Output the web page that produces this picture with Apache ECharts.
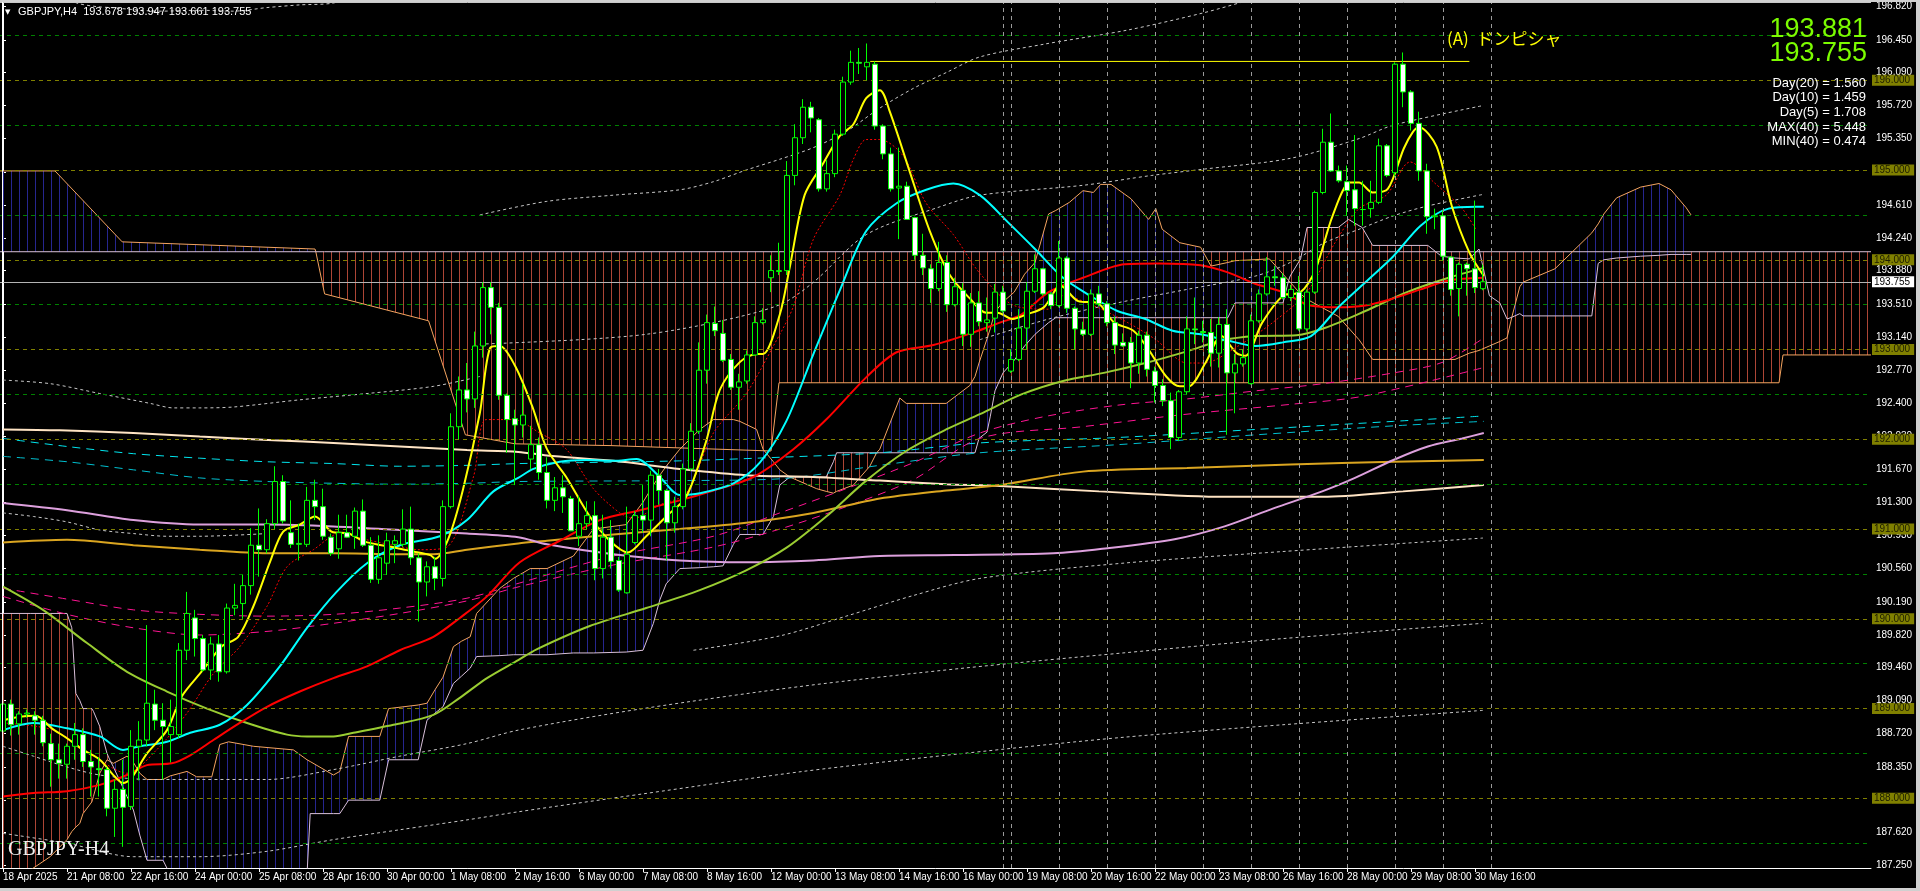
<!DOCTYPE html>
<html><head><meta charset="utf-8">
<script src="https://cdn.jsdelivr.net/npm/echarts@6/dist/echarts.min.js"></script>
<style>html,body{margin:0;padding:0;background:#000;overflow:hidden}#c{width:1920px;height:891px}</style>
</head><body><div id="c"></div>
<script>
// ---------- DATA ----------
const tickIdx = [0,8,16,24,32,40,48,56,64,72,80,88,96,104,112,120,128,136,144,152,160,168,176,184];
const timeLabels = ["18 Apr 2025","21 Apr 08:00","22 Apr 16:00","24 Apr 00:00","25 Apr 08:00","28 Apr 16:00","30 Apr 00:00","1 May 08:00","2 May 16:00","6 May 00:00","7 May 08:00","8 May 16:00","12 May 00:00","13 May 08:00","14 May 16:00","16 May 00:00","19 May 08:00","20 May 16:00","22 May 00:00","23 May 08:00","26 May 16:00","28 May 00:00","29 May 08:00","30 May 16:00"];
const yTicks = [196.82,196.45,196.09,195.72,195.35,194.98,194.61,194.24,193.88,193.51,193.14,192.77,192.40,192.03,191.67,191.30,190.93,190.56,190.19,189.82,189.46,189.09,188.72,188.35,187.98,187.62,187.25];
const intLevels = [188,189,190,191,192,193,194,195,196];
const halfLevels = [187.5,188.5,189.5,190.5,191.5,192.5,193.5,194.5,195.5,196.5];
const lastPrice = 193.755;
const daySeparators = [125,126,132,138,144,150,156,162,168,174,180,186];
const lineA = [[108.4,196.21],[183.3,196.21]];

const opens = [188.75,189.05,188.83,188.94,188.92,188.87,188.61,188.43,188.38,188.58,
188.71,188.41,188.33,188.32,187.89,188.10,187.91,188.58,188.65,189.05,
188.87,188.71,188.71,189.65,190.01,189.78,189.43,189.72,189.41,190.12,
190.17,190.37,190.82,190.77,191.06,191.53,190.96,190.83,190.83,191.32,
191.25,190.91,190.78,190.96,190.92,191.20,190.82,190.44,190.62,190.83,
190.83,191.00,190.68,190.41,190.58,190.45,191.25,192.14,192.55,192.45,
193.04,193.69,193.47,192.49,192.23,192.16,191.78,191.94,191.63,191.32,
191.46,191.34,190.92,191.06,191.15,190.56,190.91,190.65,190.29,190.85,
191.15,191.10,191.60,191.43,191.07,191.25,191.67,192.09,192.77,193.29,
193.18,192.89,192.58,192.65,192.94,193.30,193.80,193.87,193.88,194.94,
195.36,195.70,195.56,194.79,194.96,195.40,195.98,196.20,196.15,196.18,
195.49,195.18,194.80,194.82,194.47,194.05,193.90,193.68,193.97,193.50,
193.66,193.17,193.52,193.30,193.35,193.64,192.76,192.89,193.24,193.65,
193.90,193.62,193.49,194.02,193.46,193.22,193.17,193.62,193.51,193.30,
193.08,193.08,192.85,193.16,192.76,192.60,192.43,192.02,192.53,193.23,
193.20,193.19,192.96,193.28,192.74,192.84,192.62,193.32,193.62,193.81,
193.80,193.58,193.64,193.23,193.64,194.75,195.31,194.99,194.87,194.78,
194.56,194.57,194.64,195.27,194.97,196.18,195.87,195.52,194.99,194.48,
194.49,194.03,193.68,193.95,193.90,193.678];
const highs = [189.10,189.10,188.97,188.99,188.97,188.92,188.72,188.61,188.61,188.84,
188.78,188.54,188.46,188.35,188.21,188.43,188.76,188.86,189.93,189.21,
189.06,189.10,189.73,190.30,190.10,189.82,189.80,189.82,190.17,190.39,
190.49,191.01,191.23,191.11,191.70,191.60,191.32,191.06,191.47,191.55,
191.45,190.95,191.16,191.16,191.24,191.33,190.91,190.93,190.96,190.93,
191.22,191.25,190.73,190.64,190.69,191.32,192.29,192.70,192.85,193.20,
193.75,193.75,193.52,192.51,192.33,192.62,192.15,192.02,191.80,191.58,
191.60,191.37,191.37,191.31,191.31,191.16,191.10,190.69,191.25,191.20,
191.49,191.65,191.67,191.45,191.36,191.73,192.18,193.08,193.39,193.48,
193.33,192.95,192.73,192.99,193.37,193.46,194.05,194.19,195.10,195.51,
195.79,195.76,195.58,195.11,195.45,196.04,196.33,196.36,196.41,196.21,
195.51,195.25,195.25,194.87,194.48,194.29,193.95,194.20,194.05,193.80,
193.74,193.63,193.65,193.58,193.73,193.71,193.00,193.45,193.75,194.06,
193.91,193.64,194.21,194.04,193.48,193.31,193.67,193.71,193.54,193.37,
193.18,193.14,193.21,193.20,192.81,192.67,192.52,192.55,193.37,193.58,
193.32,193.34,193.36,193.45,192.95,193.00,193.39,193.67,194.03,193.93,
193.85,193.72,193.82,193.67,194.77,195.46,195.63,195.05,195.05,195.39,
194.88,194.88,195.35,195.29,196.20,196.31,195.89,195.65,195.07,194.57,
194.55,194.04,193.97,193.97,194.66,193.947];
const lows = [188.65,188.70,188.71,188.90,188.71,188.58,188.13,188.22,188.22,188.43,
188.35,188.02,188.02,187.80,187.57,187.46,187.87,188.20,188.58,188.76,
188.21,188.40,188.67,189.54,189.58,189.41,189.32,189.30,189.39,190.04,
190.00,190.27,190.47,190.73,191.00,191.06,190.79,190.65,190.80,191.10,
190.88,190.70,190.67,190.90,190.78,190.80,190.40,190.39,190.49,190.62,
190.80,190.60,189.97,190.25,190.32,190.36,191.23,192.00,192.30,192.35,
192.91,193.17,192.44,191.85,191.49,192.02,191.67,191.55,191.23,191.20,
191.18,190.98,190.81,191.00,190.43,190.45,190.56,190.30,190.28,190.83,
190.96,190.92,191.27,190.65,190.96,191.22,191.65,192.06,192.62,193.15,
192.86,192.55,192.33,192.62,192.93,193.28,193.64,193.83,193.83,194.83,
195.29,195.42,194.76,194.76,194.92,195.38,195.95,196.07,196.00,195.45,
195.12,194.76,194.23,194.45,194.00,193.83,193.52,193.65,193.42,193.48,
193.04,193.03,193.26,193.20,193.19,193.41,192.74,192.87,193.00,193.63,
193.60,193.45,193.47,193.41,193.00,193.15,193.15,193.48,193.26,192.95,
193.03,192.57,192.73,192.70,192.41,192.37,191.89,191.98,192.50,193.06,
193.08,192.81,192.80,192.05,192.29,192.81,192.61,193.30,193.60,193.71,
193.56,193.54,193.21,193.20,193.62,194.73,194.98,194.86,194.49,194.38,
194.38,194.47,194.62,194.92,194.93,195.70,195.44,194.88,194.29,194.34,
193.99,193.60,193.37,193.60,193.63,193.661];
const closes = [189.05,188.82,188.94,188.95,188.87,188.62,188.43,188.39,188.58,188.71,
188.41,188.35,188.32,187.89,188.10,187.90,188.58,188.65,189.06,188.87,
188.80,188.80,189.65,190.06,189.78,189.43,189.72,189.41,190.12,190.15,
190.37,190.82,190.77,191.06,191.53,191.09,190.83,190.84,191.32,191.25,
190.92,190.73,190.96,190.91,191.20,190.82,190.44,190.68,190.87,190.87,
191.00,190.68,190.41,190.58,190.45,191.25,192.14,192.55,192.45,193.04,
193.69,193.47,192.49,192.22,192.16,192.27,191.94,191.63,191.32,191.46,
191.36,190.98,191.06,191.15,190.56,190.91,190.64,190.32,190.72,191.15,
191.10,191.60,191.43,191.07,191.25,191.67,192.09,192.77,193.30,193.21,
192.88,192.58,192.64,192.94,193.30,193.33,193.88,193.88,194.94,195.36,
195.70,195.58,194.79,194.96,195.40,195.98,196.20,196.19,196.20,195.49,
195.18,194.79,194.82,194.45,194.05,193.91,193.68,193.97,193.50,193.70,
193.17,193.52,193.31,193.33,193.64,193.43,192.89,193.24,193.65,193.90,
193.62,193.49,194.02,193.46,193.23,193.17,193.62,193.51,193.30,193.05,
193.04,192.85,193.16,192.78,192.60,192.43,192.02,192.53,193.23,193.22,
193.19,192.96,193.28,192.74,192.84,192.91,193.32,193.62,193.81,193.80,
193.58,193.67,193.23,193.64,194.75,195.31,194.99,194.88,194.77,194.57,
194.56,194.64,195.27,194.94,196.18,195.87,195.52,194.99,194.48,194.49,
194.04,193.67,193.95,193.90,193.69,193.755];

// moving averages read at sample bars: [barIndex, price]
const maYellow = [[0,188.87],[2.1,188.91],[4.1,188.92],[6.1,188.78],[8,188.67],[10,188.54],[12.1,188.43],[14,188.24],[15,188.17],[16,188.22],[18,188.50],[20.5,188.76],[22.3,189.13],[25,189.43],[27.3,189.69],[29.4,189.80],[31.3,190.14],[33.4,190.64],[35,190.97],[37.1,191.05],[39,191.14],[41.1,190.97],[43.2,190.95],[45.25,190.86],[47.3,190.82],[49.2,190.79],[51.3,190.75],[53.4,190.71],[54,190.67],[55.7,190.90],[57.5,191.44],[59.6,192.29],[60.9,193.02],[62.1,193.04],[64,192.82],[66.1,192.38],[68,191.89],[70.4,191.58],[73.35,191.14],[75.85,190.87],[78.1,190.74],[80.4,190.92],[82.9,191.14],[85.4,191.36],[87.9,191.98],[89.6,192.55],[92.1,192.86],[94.2,192.95],[95,192.95],[97.1,193.39],[98.35,193.92],[100.2,194.72],[102.5,195.07],[104.6,195.38],[106.3,195.51],[107.9,195.80],[109.6,195.89],[110.85,195.65],[113.35,194.98],[115.85,194.32],[118.35,193.83],[120.85,193.57],[122.9,193.41],[124.3,193.41],[126.2,193.34],[127.9,193.39],[130.1,193.47],[132.2,193.71],[134.4,193.54],[136.8,193.52],[138.9,193.30],[141.3,193.21],[143.2,193.00],[145.4,192.70],[147.1,192.59],[148.2,192.59],[150.3,192.85],[152.3,193.15],[154.2,192.96],[155.3,192.93],[157.4,193.30],[160,193.60],[162.2,193.64],[164.1,193.90],[166.2,194.49],[168.4,194.86],[169.5,194.86],[171.2,194.75],[173.1,194.79],[175.1,195.24],[176.2,195.42],[177,195.48],[179.2,195.26],[181.1,194.60],[183.3,194.08],[185.1,193.82]];
const maCyan = [[0,188.76],[3.8,188.84],[8,188.78],[12.1,188.69],[15,188.54],[17.1,188.58],[20.5,188.63],[23.4,188.73],[27.1,188.82],[30.5,189.04],[34.6,189.47],[38,189.90],[41.7,190.30],[45.5,190.62],[49.6,190.82],[54.6,190.92],[58,191.10],[61.3,191.42],[64.4,191.57],[66.3,191.67],[69.6,191.75],[72.9,191.77],[76.3,191.76],[79.2,191.78],[82.1,191.58],[84.6,191.38],[87.1,191.40],[91.3,191.51],[94.6,191.74],[97.9,192.20],[101.3,192.95],[104.6,193.66],[107.9,194.32],[111.7,194.63],[115.4,194.78],[118.8,194.85],[122.1,194.72],[125.6,194.42],[129,194.12],[132.5,193.80],[135.9,193.60],[139.3,193.43],[142.8,193.34],[146.2,193.21],[149.7,193.17],[153.1,193.10],[156.6,193.04],[160,193.08],[163.5,193.15],[166.9,193.47],[170.3,193.75],[173.8,194.04],[177.2,194.38],[180.7,194.57],[184.1,194.59],[185.1,194.59]];
const maRed = [[0,188.02],[3.8,188.06],[8,188.08],[12.1,188.15],[15.5,188.26],[18,188.37],[21.1,188.39],[23.4,188.48],[26.3,188.65],[29.6,188.84],[33,189.02],[37.1,189.19],[41.3,189.34],[45.5,189.47],[49.6,189.65],[53.8,189.80],[57.1,190.01],[60.5,190.25],[64.6,190.63],[69.6,190.87],[74.6,191.10],[79.6,191.21],[84.6,191.32],[88.8,191.43],[93.8,191.58],[98.8,191.89],[102.9,192.22],[107.9,192.69],[111.7,192.97],[116.3,193.05],[121.3,193.19],[124.6,193.30],[127.3,193.39],[130.7,193.64],[135,193.80],[140.2,193.95],[144.5,193.96],[149.7,193.94],[153.1,193.86],[156.6,193.73],[160,193.64],[163.4,193.49],[166.9,193.47],[170.3,193.49],[173.8,193.57],[177.2,193.67],[180.7,193.77],[185.1,193.80]];
const maYellowGreen = [[0,190.36],[5,190.10],[10.5,189.73],[15.5,189.41],[20.5,189.19],[25.5,189.00],[30.5,188.84],[35.5,188.71],[38,188.69],[41.3,188.69],[43.8,188.73],[48.8,188.82],[53.8,188.93],[57.1,189.12],[60.5,189.34],[64.4,189.54],[66.7,189.66],[73.35,189.92],[80.4,190.12],[87.1,190.32],[92.9,190.54],[97.9,190.79],[102.9,191.14],[107.9,191.54],[112.9,191.87],[117.9,192.11],[122.1,192.28],[127.3,192.50],[132.5,192.65],[137.6,192.74],[142.8,192.85],[148,192.98],[152.3,193.10],[156.6,193.15],[161.7,193.16],[165.2,193.24],[170.3,193.43],[175.5,193.64],[180.7,193.80],[185.1,193.91]];
const maPlum = [[0,191.29],[8,191.21],[16.3,191.10],[24.6,191.05],[33,191.05],[41.3,191.03],[49.6,190.99],[58,190.95],[64.4,190.91],[68,190.83],[76.3,190.72],[84.6,190.65],[92.9,190.63],[101.3,190.65],[109.6,190.70],[119,190.71],[131.3,190.73],[137.4,190.78],[146.6,190.89],[152.7,191.03],[158.8,191.23],[164.9,191.42],[169,191.57],[173.8,191.77],[178.1,191.92],[182.4,192.01],[185.1,192.07]];
const maGold = [[0,190.85],[8,190.88],[16.3,190.82],[24.6,190.77],[33,190.73],[41.3,190.73],[49.6,190.72],[53.8,190.72],[58,190.77],[64.4,190.84],[68,190.87],[76.3,190.94],[84.6,191.00],[92.9,191.07],[101.3,191.18],[109.6,191.34],[117.9,191.43],[124.6,191.49],[135,191.64],[148,191.68],[160.9,191.72],[173.8,191.75],[185.1,191.77]];
const maBisque = [[0,192.11],[7.1,192.10],[16.3,192.07],[24.6,192.03],[33.8,191.99],[41.3,191.96],[49.6,191.92],[58,191.88],[64.4,191.86],[68,191.82],[76.3,191.76],[84.6,191.67],[92.9,191.60],[101.3,191.58],[109.6,191.54],[117.9,191.50],[124.6,191.48],[137,191.42],[152.7,191.36],[165,191.36],[175,191.42],[185.1,191.49]];
const maRedDot = [[0,188.84],[6.3,188.76],[10.9,188.50],[15.5,188.28],[19.2,188.54],[23,188.95],[26.3,189.39],[29.6,189.69],[33,190.14],[35.5,190.58],[38.8,190.77],[42.1,190.95],[45.5,190.88],[48.8,190.82],[52.1,190.77],[55.5,190.80],[58.8,191.58],[60.4,192.22],[63.8,192.22],[67.1,192.07],[70.4,191.89],[73.8,191.45],[77.1,191.18],[78.8,191.12],[82.1,191.27],[85.4,191.40],[88.8,192.07],[92.9,192.51],[96.3,193.04],[98.8,193.48],[101.3,194.23],[104.6,194.72],[106.3,195.12],[107.9,195.34],[109.6,195.34],[112.5,195.16],[115.4,194.63],[118.8,194.28],[122.1,193.85],[126.4,193.49],[130.7,193.45],[132.5,193.60],[136.3,193.49],[140.6,193.30],[144.1,193.11],[148,192.85],[150.1,192.85],[154.4,193.04],[158.7,193.30],[163,193.64],[166.5,194.19],[169.5,194.57],[172.9,194.72],[175.9,195.09],[178.9,194.86],[182.4,194.57],[184.1,194.34]];
const cyanDashA = [[0,192.01],[8,191.92],[16.3,191.84],[24.6,191.79],[33,191.75],[41.3,191.73],[49.6,191.70],[58,191.71],[64.6,191.73],[72.1,191.74],[84.6,191.76],[97.1,191.80],[109.6,191.85],[122.1,191.96],[139.3,192.02],[156.6,192.11],[173.8,192.20],[185.1,192.26]];
const cyanDashB = [[0,191.81],[8,191.75],[16.3,191.66],[24.6,191.57],[33,191.53],[41.3,191.51],[49.6,191.50],[58,191.51],[64.6,191.53],[84.6,191.54],[97.1,191.56],[109.6,191.71],[122.1,191.85],[139.3,191.94],[156.6,192.05],[173.8,192.15],[185.1,192.20]];
const pinkDashA = [[0,190.34],[8,190.22],[16.3,190.10],[24.6,190.05],[33,190.03],[41.3,190.05],[49.6,190.12],[58,190.23],[64.6,190.40],[76.3,190.70],[88.8,190.92],[97.1,191.18],[105.4,191.45],[113.8,191.74],[122.1,192.07],[130,192.25],[139.3,192.38],[148,192.45],[156.6,192.54],[165,192.62],[173.8,192.74],[180,192.86],[185.1,193.13]];
const pinkDashB = [[0,190.25],[8,190.05],[16.3,189.90],[24.6,189.82],[33,189.86],[41.3,189.95],[49.6,190.06],[58,190.20],[64.6,190.36],[76.3,190.60],[88.8,190.80],[97.1,191.00],[105.4,191.25],[113.8,191.55],[122.1,192.01],[134.9,192.14],[148,192.28],[161,192.39],[170,192.48],[185.1,192.80]];
const dotLines = [
 [[7,196.95],[9.25,196.86],[11.75,196.82],[13.4,196.81],[19.6,196.77],[24.6,196.78],[28.75,196.77],[33,196.81],[37.1,196.84],[41.25,196.86],[44,196.95]],
 [[59.6,194.50],[67.9,194.65],[76.3,194.72],[84.6,194.78],[88.8,194.87],[92.9,195.00],[97.1,195.12],[101.3,195.25],[105.4,195.43],[109.6,195.69],[113.8,195.91],[118,196.09],[122.1,196.26],[130,196.40],[140.6,196.56],[150,196.75],[156,196.90]],
 [[59.6,193.06],[72.1,193.11],[80.4,193.17],[88.8,193.30],[97.1,193.50],[101.3,193.75],[107.9,194.28],[117.1,194.59],[122.1,194.72],[135,194.83],[143.6,194.94],[150.1,195.01],[160.9,195.13],[169.5,195.35],[173.8,195.50],[185.1,195.72]],
 [[122.1,193.11],[130.7,193.34],[139.3,193.52],[148,193.67],[156.6,193.82],[160.9,193.97],[165.2,194.19],[169.5,194.34],[173.8,194.49],[178.1,194.60],[185.1,194.73]],
 [[0,192.66],[5.9,192.62],[12.1,192.51],[18.4,192.40],[21.3,192.35],[24.6,192.35],[28.8,192.36],[37.1,192.44],[45.5,192.51],[53.8,192.59],[59.6,192.70]],
 [[0,191.18],[3.8,191.14],[8,191.08],[12.1,190.99],[16.3,190.95],[20.5,190.92],[24.6,190.92],[33,190.95]],
 [[0,188.58],[3.8,188.47],[8,188.35],[12.1,188.26],[18.4,188.21],[24.6,188.21],[33,188.21],[41.3,188.32],[49.6,188.47],[58,188.61],[64.4,188.76],[80,189.00],[100,189.25],[120,189.45],[140,189.62],[160,189.78],[185,189.95]],
 [[0,187.61],[8,187.50],[16.3,187.35],[24.6,187.35],[33,187.41],[41.3,187.54],[49.6,187.65],[58,187.76],[64.4,187.85],[80,188.05],[100,188.30],[120,188.50],[140,188.68],[160,188.82],[185,188.98]],
 [[86.3,189.65],[97.1,189.81],[105.4,190.03],[113.8,190.26],[122.1,190.45],[140,190.62],[160,190.75],[185,190.90]]
];
// Ichimoku clouds read at sample bars: [barIndex, spanA, spanB]
const cloudH4 = [[-0.5,186.9,190.06],[3.4,187.20,190.06],[5.9,187.35,190.06],[8,187.54,190.06],[8.6,187.63,189.90],[9.1,187.68,189.17],[9.6,187.72,189.09],[10,187.83,189.00],[11.1,187.96,189.00],[11.3,188.02,188.97],[12.1,188.28,188.80],[13,188.43,188.50],[13.4,188.41,188.42],[13.8,188.39,188.35],[15.5,188.47,188.02],[16.3,188.40,187.87],[17.1,188.28,187.59],[18,188.21,187.31],[20,188.21,187.31],[20.9,188.25,187.15],[23,188.30,187.15],[24.2,188.24,187.15],[26.1,188.24,187.15],[27.1,188.60,187.15],[28.2,188.63,187.15],[31.3,188.58,187.15],[36.3,188.54,187.15],[38,188.43,187.15],[38.4,188.41,187.83],[41.3,188.26,187.83],[42.1,188.30,187.83],[43.2,188.69,187.98],[47.1,188.69,187.98],[48.2,189.00,188.43],[51.9,189.04,188.43],[53,189.06,188.87],[54,189.21,188.95],[55,189.35,189.02],[56.3,189.69,189.28],[57.3,189.75,189.36],[58.4,189.80,189.45],[59.2,190.06,189.58],[62.1,190.34,189.59],[63.8,190.45,189.60],[65.9,190.56,189.60],[68,190.56,189.60],[71.3,190.70,189.62],[73.8,191.00,189.62],[77.9,191.05,189.63],[80,191.30,189.65],[81.3,191.49,189.95],[82.1,191.60,190.21],[82.9,191.70,190.39],[84.6,191.89,190.56],[87.1,192.11,190.57],[88.8,192.22,190.58],[90,192.22,190.59],[91.3,192.22,190.83],[92.1,192.20,190.94],[94.2,192.11,190.94],[95,191.89,190.94],[96.3,191.75,191.14],[97.1,191.66,191.49],[98.35,191.58,191.58],[101.7,191.45,191.58],[102.9,191.42,191.58],[103.8,191.40,191.75],[104.2,191.42,191.85],[106.3,191.49,191.85],[108.35,191.70,191.85],[109.2,191.85,191.85],[109.6,191.89,191.85],[112.1,192.46,191.85],[112.9,192.40,191.85],[117.9,192.40,191.85],[120.85,192.60,191.85],[121.5,192.70,191.85],[122,192.85,192.01],[123,193.12,192.08],[123.4,193.23,192.25],[124,193.42,192.54],[125,193.53,192.74],[126.4,193.64,192.88],[127.7,193.84,193.04],[129,193.97,193.17],[130.7,194.51,193.30],[131.6,194.55,193.355],[133.3,194.64,193.355],[135,194.77,193.355],[136.3,194.75,193.355],[137.2,194.84,193.355],[138.5,194.84,193.355],[141,194.68,193.355],[143.2,194.45,193.355],[144.1,194.57,193.355],[144.9,194.34,193.355],[147.1,194.19,193.355],[149.7,194.14,193.355],[151,193.93,193.355],[153.1,193.97,193.355],[154,193.99,193.52],[158.3,194.01,193.52],[160,193.84,193.52],[160.7,193.77,193.77],[160.9,193.75,193.82],[162.2,193.62,194.01],[163,193.56,194.36],[166.9,193.37,194.36],[168.2,193.24,194.45],[169.5,193.11,194.38],[169.9,193.06,194.36],[171.2,192.89,194.16],[178.1,192.89,194.16],[179.8,192.89,194.04],[181.5,192.89,194.02],[183.3,192.96,194.01],[184.5,192.99,194.12],[185.8,193.04,193.60],[187.1,193.09,193.52],[188,193.13,193.34],[188.6,193.36,193.36],[189.6,193.70,193.40],[190,193.75,193.375],[194,193.90,193.375],[198.6,194.30,193.375],[199.4,194.40,193.96],[200.1,194.51,194.00],[201.7,194.69,194.02],[204.7,194.81,194.04],[207,194.85,194.05],[208.5,194.78,194.06],[210.4,194.58,194.06],[211,194.50,194.06]];
const cloudDaily = [[-0.5,194.99,194.09],[6.5,194.99,194.09],[14.9,194.20,194.09],[39,194.12,194.09],[39.1,194.09,194.09],[40.2,193.62,194.09],[53.2,193.32,194.09],[57.8,192.05,194.09],[64,191.95,194.09],[76,191.93,194.09],[96,191.87,194.09],[97,192.63,194.09],[222,192.63,194.09],[222.5,192.94,194.09],[233.5,192.94,194.09]];

// ---------- CHART ----------
const chart = echarts.init(document.getElementById('c'), null, {renderer:'canvas', width:1920, height:891});
function hatch(color){
  const c = document.createElement('canvas'); c.width = 8; c.height = 4;
  const g = c.getContext('2d'); g.fillStyle = color; g.fillRect(3,0,1,4);
  return {image:c, repeat:'repeat'};
}
const hatchBlue = hatch('#26268f'), hatchRed = hatch('#ad4636');
function cloudFill(arr, z){
  return {type:'custom', xAxisIndex:1, yAxisIndex:0, z:z, silent:true, clip:true,
    data: arr.map(d=>[d[0], d[1], d[2]]),
    encode:{x:0, y:[1,2]},
    renderItem:function(params, api){
      const k = params.dataIndex;
      if (k >= arr.length-1) return {type:'group', children:[]};
      const a = arr[k], b = arr[k+1];
      const pts = [api.coord([a[0],a[1]]), api.coord([b[0],b[1]]), api.coord([b[0],b[2]]), api.coord([a[0],a[2]])];
      const up = (a[1]+b[1]) >= (a[2]+b[2]);
      return {type:'polygon', shape:{points:pts}, style:{fill: up ? hatchBlue : hatchRed}};
    }};
}
function ln(data, color, width, type, z, smooth){
  return {type:'line', xAxisIndex:1, yAxisIndex:0, data:data, symbol:'none', silent:true, z:z,
    smooth: smooth === undefined ? 0.3 : smooth, clip:true,
    lineStyle:{color:color, width:width, type:type||'solid'}};
}
const levelMarks = [];
intLevels.forEach(v=>levelMarks.push({yAxis:v, lineStyle:{color:'#808000', type:[4,4], width:1},
  label:{show:true, position:'end', distance:1, formatter:v.toFixed(3), backgroundColor:'#808000', color:'#1c1c00', fontSize:10, fontFamily:'Liberation Sans', padding:[1,4,0,2]}}));
halfLevels.forEach(v=>levelMarks.push({yAxis:v, lineStyle:{color:'#008000', type:[4,4], width:1}, label:{show:false}}));
levelMarks.push({yAxis:lastPrice, lineStyle:{color:'#b4b4b4', type:'solid', width:1},
  label:{show:true, position:'end', distance:1, formatter:lastPrice.toFixed(3), backgroundColor:'#ffffff', color:'#000000', fontSize:10, fontFamily:'Liberation Sans', padding:[1,4,0,2]}});
const sepMarks = daySeparators.map(v=>({xAxis:v}));

const series = [
  cloudFill(cloudDaily, 1),
  cloudFill(cloudH4, 1),
  {type:'line', xAxisIndex:1, yAxisIndex:0, data:[], symbol:'none', z:2, silent:true,
   markLine:{silent:true, symbol:'none', animation:false, precision:3, data:levelMarks}},
  {type:'line', xAxisIndex:1, yAxisIndex:0, data:[], symbol:'none', z:2, silent:true,
   markLine:{silent:true, symbol:'none', animation:false, label:{show:false},
     lineStyle:{color:'#9a9a9a', type:[4,4], width:1}, data:sepMarks}},
  ln(cloudDaily.map(d=>[d[0],d[1]]), '#f4a460', 1, 'solid', 2, false),
  ln(cloudDaily.map(d=>[d[0],d[2]]), '#d8bfd8', 1, 'solid', 2, false),
  ln(cloudH4.map(d=>[d[0],d[1]]), '#f4a460', 1, 'solid', 2, false),
  ln(cloudH4.map(d=>[d[0],d[2]]), '#d8bfd8', 1, 'solid', 2, false),
];
dotLines.forEach(d=>series.push(ln(d, '#c8c8c8', 1, [3,3], 3)));
series.push(ln(cyanDashA, '#00e5ee', 1, [8,6], 3));
series.push(ln(cyanDashB, '#00c0d0', 1, [8,6], 3));
series.push(ln(pinkDashA, '#ff1493', 1, [8,6], 3));
series.push(ln(pinkDashB, '#ff1493', 1, [8,6], 3));
series.push(ln(maRedDot, '#ff0000', 1, [2,2], 3));
series.push(ln(maBisque, '#ffe4c4', 2, 'solid', 4));
series.push(ln(maGold, '#daa520', 2, 'solid', 4));
series.push(ln(maPlum, '#dda0dd', 2, 'solid', 4));
series.push(ln(maYellowGreen, '#9acd32', 2, 'solid', 4));
series.push(ln(maRed, '#ff0000', 2, 'solid', 4));
series.push(ln(maCyan, '#00ffff', 2, 'solid', 4));
series.push(ln(maYellow, '#ffff00', 2, 'solid', 4));
series.push({type:'line', xAxisIndex:1, yAxisIndex:0, data:lineA, symbol:'none', z:4, silent:true, lineStyle:{color:'#ffff00', width:1}});
series.push({type:'candlestick', xAxisIndex:0, yAxisIndex:0, z:6, silent:true, barWidth:5,
  data: opens.map((o,i)=>[o, closes[i], lows[i], highs[i]]),
  itemStyle:{color:'#000000', color0:'#ffffff', borderColor:'#00ff00', borderColor0:'#00ff00', borderColorDoji:'#00ff00', borderWidth:1}});

const slots = Array.from({length:234}, (_, i)=>String(i));
const font = 'Liberation Sans';
chart.setOption({
  animation:false,
  backgroundColor:'#000000',
  grid:{left:-1, top:3, width:1872, height:865, containLabel:false, outerBoundsMode:'none'},
  xAxis:[
    {type:'category', data:slots, boundaryGap:true, show:false, position:'top'},
    {type:'value', min:-0.5, max:233.5, position:'bottom', splitLine:{show:false},
     axisLine:{show:true, onZero:false, lineStyle:{color:'#ffffff', width:1}},
     axisTick:{show:true, length:4, customValues:tickIdx, lineStyle:{color:'#ffffff'}},
     axisLabel:{show:true, customValues:tickIdx, align:'left', margin:4, color:'#ffffff', fontSize:10, fontFamily:font,
       formatter:function(v){const k=tickIdx.indexOf(Math.round(v)); return k>=0?timeLabels[k]:'';}}}
  ],
  yAxis:{type:'value', position:'right', min:187.224, max:196.861, scale:true, splitLine:{show:false},
    axisLine:{show:true, lineStyle:{color:'#ffffff', width:1}},
    axisTick:{show:true, length:3, customValues:yTicks, lineStyle:{color:'#ffffff'}},
    axisLabel:{show:true, customValues:yTicks, margin:5, color:'#ffffff', fontSize:10, fontFamily:font,
      formatter:function(v){return v.toFixed(3);}}},
  series:series,
  graphic:[
    {type:'rect', shape:{x:0, y:0, width:1920, height:2}, style:{fill:'#d0d0d0'}, silent:true, z:100},
    {type:'rect', shape:{x:1916, y:0, width:4, height:891}, style:{fill:'#d0d0d0'}, silent:true, z:100},
    {type:'rect', shape:{x:0, y:888, width:1920, height:3}, style:{fill:'#d0d0d0'}, silent:true, z:100},
    {type:'line', shape:{x1:0, y1:2.5, x2:1871, y2:2.5}, style:{stroke:'#c8c8c8', lineWidth:1}, silent:true, z:100},
    {type:'line', shape:{x1:2.5, y1:2, x2:2.5, y2:868}, style:{stroke:'#ffffff', lineWidth:1}, silent:true, z:100},
    {type:'text', x:5, y:12, silent:true, z:100, style:{text:'▼', fill:'#ffffff', font:'7px DejaVu Sans', textVerticalAlign:'middle'}},
    {type:'text', x:18, y:12, silent:true, z:100, style:{text:'GBPJPY,H4  193.678 193.947 193.661 193.755', fill:'#ffffff', font:'11px Liberation Sans', textVerticalAlign:'middle'}},
    {type:'text', x:1447, y:39, silent:true, z:100, style:{text:'(A)  ドンピシャ', fill:'#ffff00', font:'17px "Noto Sans CJK JP"', textVerticalAlign:'middle'}},
    {type:'text', x:1867, y:30, silent:true, z:100, style:{text:'193.881', fill:'#7cfc00', font:'27px Liberation Sans', textAlign:'right', textVerticalAlign:'middle'}},
    {type:'text', x:1867, y:54, silent:true, z:100, style:{text:'193.755', fill:'#7cfc00', font:'27px Liberation Sans', textAlign:'right', textVerticalAlign:'middle'}},
    {type:'text', x:1866, y:83, silent:true, z:100, style:{text:'Day(20) = 1.560', fill:'#ffffff', font:'13px Liberation Sans', textAlign:'right', textVerticalAlign:'middle'}},
    {type:'text', x:1866, y:97.5, silent:true, z:100, style:{text:'Day(10) = 1.459', fill:'#ffffff', font:'13px Liberation Sans', textAlign:'right', textVerticalAlign:'middle'}},
    {type:'text', x:1866, y:112.3, silent:true, z:100, style:{text:'Day(5) = 1.708', fill:'#ffffff', font:'13px Liberation Sans', textAlign:'right', textVerticalAlign:'middle'}},
    {type:'text', x:1866, y:127, silent:true, z:100, style:{text:'MAX(40) = 5.448', fill:'#ffffff', font:'13px Liberation Sans', textAlign:'right', textVerticalAlign:'middle'}},
    {type:'text', x:1866, y:141.7, silent:true, z:100, style:{text:'MIN(40) = 0.474', fill:'#ffffff', font:'13px Liberation Sans', textAlign:'right', textVerticalAlign:'middle'}},
    {type:'text', x:8, y:850, silent:true, z:100, style:{text:'GBPJPY-H4', fill:'#f0f0f0', font:'20px Liberation Serif', textVerticalAlign:'middle'}}
  ]
});
</script></body></html>
